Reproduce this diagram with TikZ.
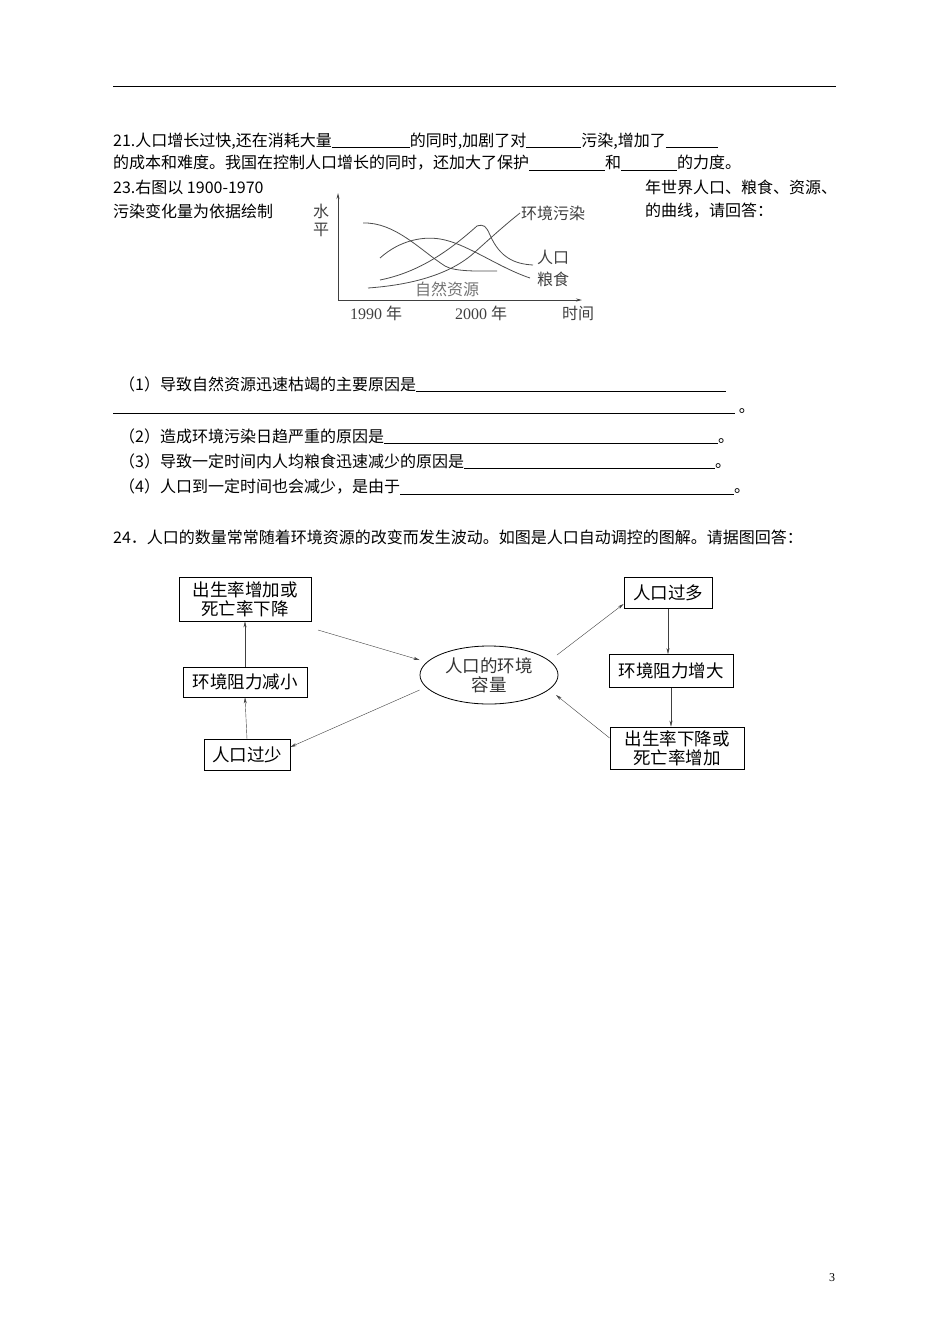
\documentclass[tikz,border=0pt]{standalone}
\usepackage{fontspec}
\setmainfont{Liberation Serif}
\newfontfamily\cjk{Noto Sans CJK SC}
\usetikzlibrary{shapes.geometric,arrows.meta}
\newcommand{\blank}[1]{\rule[-1.5pt]{#1pt}{0.4pt}}
\begin{document}
\begin{tikzpicture}[x=1pt,y=-1pt,
  txt/.style={anchor=west,inner sep=0pt,font=\cjk\fontsize{16}{18}\selectfont},
  chl/.style={inner sep=0pt,font=\cjk\fontsize{16}{18}\selectfont,text=black!75},
  bx/.style={draw,thick,inner sep=0pt,font=\cjk\fontsize{17.5}{19}\selectfont,align=center},
  arr/.style={-{Stealth[length=6pt,width=3pt]},black!75},
  crv/.style={black!70,line width=0.8pt}]
\useasboundingbox (0,0) rectangle (950,1344);
\draw[thick] (113,86) -- (836,86);
\node[txt] (l21) at (113,141) {21.人口增长过快,还在消耗大量\blank{78}的同时,加剧了对\blank{55}污染,增加了\blank{52}};
\node[txt] (l21b) at (113,163) {的成本和难度。我国在控制人口增长的同时，还加大了保护\blank{76}和\blank{56}的力度。};
\node[txt] (l23a) at (113,187) {23.右图以 1900-1970};
\node[txt] (l23b) at (645,187) {年世界人口、粮食、资源、};
\node[txt] (l23c) at (113,211) {污染变化量为依据绘制};
\node[txt] (l23d) at (645,211) {的曲线，请回答：};
% chart
\coordinate (o) at (338,300);
\coordinate (ytop) at (338,193);
\coordinate (xend) at (582,300);
\draw[arr,thick] (o) -- (ytop);
\draw[arr,thick] (o) -- (xend);
\node[chl] (shui) at (321,211) {水};
\node[chl] (ping) at (321,230) {平};
\draw[crv] (363,223) .. controls (395,222) and (420,250) .. (445,266) .. controls (455,272) and (480,271) .. (497,271);
\draw[crv] (380,258) .. controls (400,240) and (425,235) .. (445,240) .. controls (470,246) and (500,268) .. (530,278);
\draw[crv] (380,280) .. controls (420,272) and (450,250) .. (477,226) .. controls (484,224) and (486,226) .. (490,235) .. controls (500,258) and (515,264) .. (533,265);
\draw[crv] (368,288) .. controls (410,285) and (450,275) .. (475,252) .. controls (495,234) and (505,225) .. (520,213);
\node[chl,anchor=west] (wr) at (521,213) {环境污染};
\node[chl,anchor=west] (rk) at (537,257) {人口};
\node[chl,anchor=west] (ls) at (537,279) {粮食};
\node[chl,anchor=west,text=black!55] (zr) at (415,289) {自然资源};
\node[chl,anchor=west,font=\fontsize{16}{18}\selectfont] (y1) at (350,313) {1990 {\cjk 年}};
\node[chl,anchor=west,font=\fontsize{16}{18}\selectfont] (y2) at (455,313) {2000 {\cjk 年}};
\node[chl,anchor=west] (sj) at (562,313) {时间};
% questions
\node[txt] (q1) at (119,384) {（1）导致自然资源迅速枯竭的主要原因是\blank{310}};
\node[txt] (q1b) at (113,411) {\blank{622}\ 。};
\node[txt] (q2) at (119,436) {（2）造成环境污染日趋严重的原因是\blank{334}。};
\node[txt] (q3) at (119,461) {（3）导致一定时间内人均粮食迅速减少的原因是\blank{251}。};
\node[txt] (q4) at (119,487) {（4）人口到一定时间也会减少，是由于\blank{334}。};
\node[txt] (l24) at (113,537) {24．人口的数量常常随着环境资源的改变而发生波动。如图是人口自动调控的图解。请据图回答：};
% diagram
\node[bx,minimum width=132pt,minimum height=44pt] (A) at (245,599) {出生率增加或\\死亡率下降};
\node[bx,minimum width=124pt,minimum height=30pt] (B) at (245,682) {环境阻力减小};
\node[bx,minimum width=86pt,minimum height=31pt] (C) at (247,755) {人口过少};
\node[draw,ellipse,thick,minimum width=138pt,minimum height=58pt,inner sep=0pt,font=\cjk\fontsize{17.5}{19}\selectfont,align=center,text=black!80] (E) at (489,675) {人口的环境\\容量};
\node[bx,minimum width=88pt,minimum height=31pt] (D) at (668,593) {人口过多};
\node[bx,minimum width=124pt,minimum height=33pt] (F) at (671,671) {环境阻力增大};
\node[bx,minimum width=134pt,minimum height=42pt] (G) at (677,748) {出生率下降或\\死亡率增加};
\draw[arr] (318,630) -- (E.west |- 0,660);
\draw[arr] (E.west |- 0,690) -- (C.east |- 0,747);
\draw[arr] (C.north) -- (B.south);
\draw[arr] (B.north) -- (A.south);
\draw[arr] (557,655) -- (D.west |- 0,604);
\draw[arr] (D.south) -- (D.south |- F.north);
\draw[arr] (F.south) -- (F.south |- G.north);
\draw[arr] (G.west |- 0,738) -- (556,695);
\node[inner sep=0pt,font=\fontsize{12}{14}\selectfont] (pg) at (832,1278) {3};
\end{tikzpicture}
\end{document}
